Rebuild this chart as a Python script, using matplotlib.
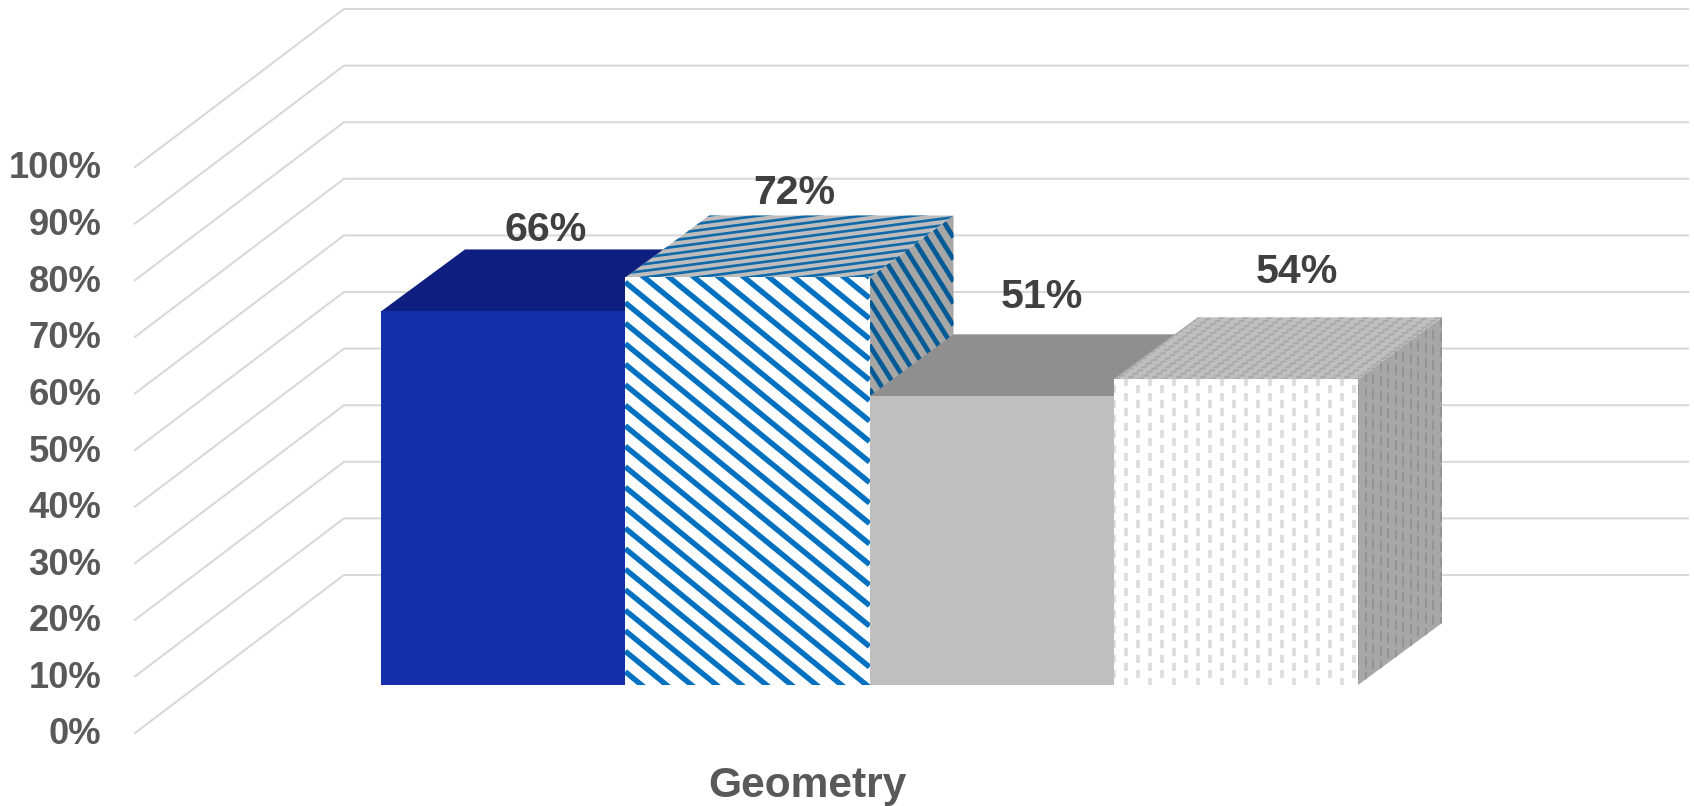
import numpy as np
import matplotlib
matplotlib.use("Agg")
import matplotlib.pyplot as plt
from matplotlib.patches import Polygon
from matplotlib.collections import LineCollection

plt.rcParams['font.family'] = ['Liberation Sans', 'DejaVu Sans']

# ---- data
category = "Geometry"
series_values = [66, 72, 51, 54]
value_labels = ["66%", "72%", "51%", "54%"]
tick_values = list(range(0, 101, 10))
tick_labels = [f"{v}%" for v in tick_values]

# ---- layout of the 3-D projection (pixels)
W, H = 1694, 806
PX_PER_PCT = 5.66
BAR_LEFT, BAR_BASE = 381, 685
BAR_W = 244.25
DEPTH_X, DEPTH_Y = 84, 62
WALL_FRONT_X, WALL_FRONT_Y = 135, 733
WALL_BACK_X, WALL_BACK_Y, WALL_RIGHT = 344, 575, 1688
LABEL_SHIFT = [(1, -50), (5, -53), (8, -68), (19, -76)]

fig = plt.figure(figsize=(W / 100, H / 100), dpi=100)
ax = fig.add_axes([0, 0, 1, 1])
ax.set_xlim(0, W)
ax.set_ylim(H, 0)
ax.axis("off")

GRID = "#d9d9d9"
TICK = "#595959"
LABEL = "#404040"

# ---- walls
for v, lab in zip(tick_values, tick_labels):
    h = v * PX_PER_PCT
    ax.plot([WALL_FRONT_X, WALL_BACK_X, WALL_RIGHT],
            [WALL_FRONT_Y - h, WALL_BACK_Y - h, WALL_BACK_Y - h],
            color=GRID, lw=1.5, zorder=1, solid_joinstyle="miter")
    ax.text(101.5, WALL_FRONT_Y - h + 2, lab, ha="right", va="center",
            fontsize=26.2, fontweight="bold", color=TICK)


def faces(i, v):
    x0 = BAR_LEFT + i * BAR_W
    x1 = x0 + BAR_W
    top = BAR_BASE - v * PX_PER_PCT
    front = [(x0, BAR_BASE), (x1, BAR_BASE), (x1, top), (x0, top)]
    upper = [(x0, top), (x1, top), (x1 + DEPTH_X, top - DEPTH_Y), (x0 + DEPTH_X, top - DEPTH_Y)]
    side = [(x1, BAR_BASE), (x1 + DEPTH_X, BAR_BASE - DEPTH_Y),
            (x1 + DEPTH_X, top - DEPTH_Y), (x1, top)]
    return front, upper, side


def face(pts, color, z):
    p = Polygon(pts, closed=True, facecolor=color, edgecolor="none", zorder=z)
    ax.add_patch(p)
    return p


def stripes(pts, clip, slope, vspacing, color, lw, z):
    """Texture: parallel lines of given slope clipped to a face."""
    a = np.array(pts)
    x0, x1 = a[:, 0].min(), a[:, 0].max()
    c = a[:, 1] - slope * a[:, 0]
    segs = [[(x0, x0 * slope + k), (x1, x1 * slope + k)]
            for k in np.arange(c.min(), c.max() + vspacing, vspacing)]
    lc = LineCollection(segs, colors=color, linewidths=lw, zorder=z, capstyle="butt")
    ax.add_collection(lc)
    lc.set_clip_path(clip)


def dashes(pts, clip, col, row, dash, color, lw, z):
    """Texture: staggered dash grid; col/row are step vectors, dash the stroke vector."""
    a = np.array(pts)
    o = a[0]
    col, row, dash = map(np.array, (col, row, dash))
    ext = int(max(np.ptp(a[:, 0]), np.ptp(a[:, 1])) / min(np.hypot(*col), np.hypot(*row))) + 4
    segs = []
    for m in range(-ext, ext):
        for n in range(-ext, ext):
            p = o + m * col + (n + 0.5 * (m % 2)) * row
            segs.append([tuple(p), tuple(p + dash)])
    lc = LineCollection(segs, colors=color, linewidths=lw, zorder=z, capstyle="butt")
    ax.add_collection(lc)
    lc.set_clip_path(clip)


# ---- bars, painted left to right
for i, v in enumerate(series_values):
    z = 2 + i
    front, upper, side = faces(i, v)
    if i == 0:
        face(side, "#0f1f80", z)
        face(upper, "#0f1f80", z)
        face(front, "#142fa9", z)
    elif i == 1:
        c = face(side, "#a6a6a6", z)
        stripes(side, c, 1.6, 22, "#005a96", 3.4, z)
        c = face(upper, "#bdbdbd", z)
        stripes(upper, c, -0.13, 6.7, "#1069a8", 1.9, z)
        c = face(front, "white", z)
        stripes(front, c, 0.82, 20.5, "#0070c0", 3.9, z)
    elif i == 2:
        face(side, "#8f8f8f", z)
        face(upper, "#8f8f8f", z)
        face(front, "#bfbfbf", z)
    else:
        c = face(side, "#a7a7a7", z)
        dashes(side, c, (7.5, -5.5), (0, 15), (0, 10), "#939393", 1.5, z)
        c = face(upper, "#bfbfbf", z)
        dashes(upper, c, (12, 0), (4.5, -3.4), (6, -1.2), "#a9a9a9", 1.5, z)
        c = face(front, "white", z)
        dashes(front, c, (12, 0), (0, 15), (0, 8), "#dcdcdc", 2.6, z)

# ---- value labels
for i, (v, lab) in enumerate(zip(series_values, value_labels)):
    dx, dy = LABEL_SHIFT[i]
    x = BAR_LEFT + (i + 0.5) * BAR_W + DEPTH_X / 2 + dx
    y = BAR_BASE - v * PX_PER_PCT - DEPTH_Y / 2 + dy
    ax.text(x, y, lab, ha="center", va="center", fontsize=29.6,
            fontweight="bold", color=LABEL, zorder=10)

ax.text(807, 786, category, ha="center", va="center", fontsize=30.6,
        fontweight="bold", color=TICK, zorder=10)

fig.savefig("out.png", dpi=100, facecolor="white")
